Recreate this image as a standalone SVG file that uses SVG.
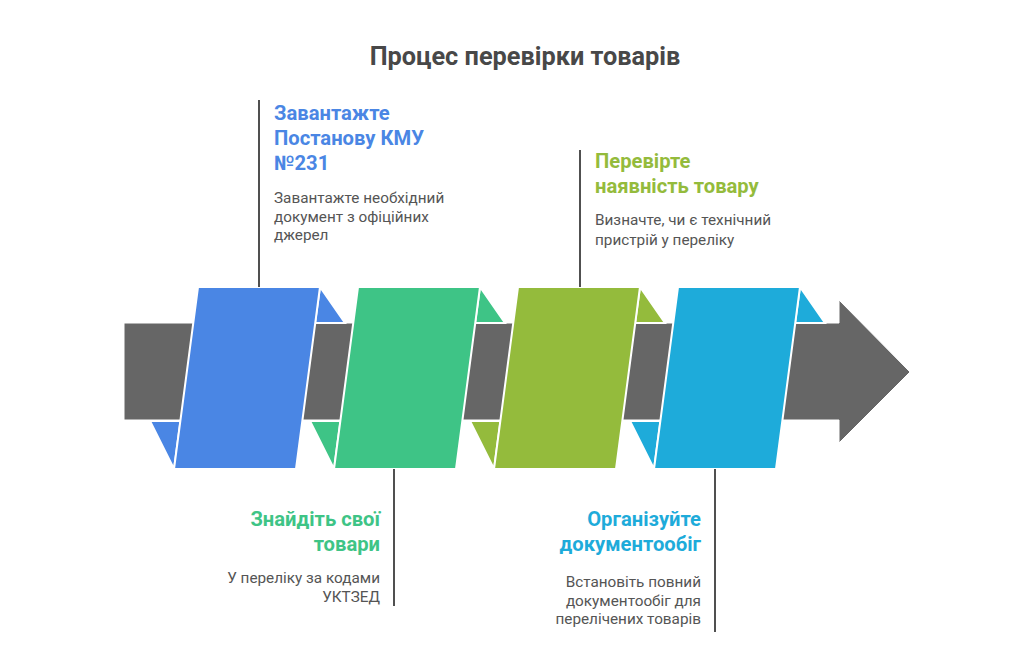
<svg xmlns="http://www.w3.org/2000/svg" width="1015" height="654" viewBox="0 0 1015 654">
<style>
.title{font-family:Roboto,"Liberation Sans",sans-serif;font-weight:bold;font-size:25.3px;fill:#484848}
.h{font-family:Roboto,"Liberation Sans",sans-serif;font-weight:bold;font-size:20.2px}
.d{font-family:Roboto,"Liberation Sans",sans-serif;font-size:15.3px;fill:#555555}
.r{text-anchor:end}
.sh{stroke:#ffffff;stroke-width:2;stroke-linejoin:miter}
.ln{stroke:#505050;stroke-width:2;fill:none}
.blue{fill:#4A86E4}
.green{fill:#3EC486}
.olive{fill:#94BB3C}
.cyan{fill:#1EABDA}
</style>
<rect width="1015" height="654" fill="#ffffff"/>
<text class="title" x="525" y="65" text-anchor="middle">Процес перевірки товарів</text>
<g id="band">
<polygon points="124,323 839,323 839,300 910,372 839,443 839,420 124,420" fill="#666666" stroke="#ffffff" stroke-width="1"/>
</g>
<g id="step1">
<polygon class="blue sh" points="320,287 345,323 315,323"/>
<polygon class="blue sh" points="150,421 180.5,421 174,469"/>
<polygon class="blue sh" points="198,287 320,287 296,469 174,469"/>
</g>
<g id="step2">
<polygon class="green sh" points="480,287 505,323 475,323"/>
<polygon class="green sh" points="310,421 340.5,421 334,469"/>
<polygon class="green sh" points="358,287 480,287 456,469 334,469"/>
</g>
<g id="step3">
<polygon class="olive sh" points="640,287 665,323 635,323"/>
<polygon class="olive sh" points="470,421 500.5,421 494,469"/>
<polygon class="olive sh" points="518,287 640,287 616,469 494,469"/>
</g>
<g id="step4">
<polygon class="cyan sh" points="800,287 825,323 795,323"/>
<polygon class="cyan sh" points="630,421 660.5,421 654,469"/>
<polygon class="cyan sh" points="678,287 800,287 776,469 654,469"/>
</g>
<g id="connectors">
<line class="ln" x1="259" y1="100" x2="259" y2="287"/>
<line class="ln" x1="580" y1="150" x2="580" y2="287"/>
<line class="ln" x1="394" y1="469" x2="394" y2="606"/>
<line class="ln" x1="715" y1="469" x2="715" y2="632"/>
</g>
<g id="label1">
<text class="h" fill="#4A86E4" x="274" y="120">Завантажте</text>
<text class="h" fill="#4A86E4" x="274" y="145">Постанову КМУ</text>
<text class="h" fill="#4A86E4" x="274" y="170">№231</text>
<text class="d" x="274" y="203">Завантажте необхідний</text>
<text class="d" x="274" y="221.5">документ з офіційних</text>
<text class="d" x="274" y="240">джерел</text>
</g>
<g id="label2">
<text class="h r" fill="#3EC486" x="380" y="526">Знайдіть свої</text>
<text class="h r" fill="#3EC486" x="380" y="551">товари</text>
<text class="d r" x="380" y="583">У переліку за кодами</text>
<text class="d r" x="380" y="602">УКТЗЕД</text>
</g>
<g id="label3">
<text class="h" fill="#94BB3C" x="595" y="168">Перевірте</text>
<text class="h" fill="#94BB3C" x="595" y="193">наявність товару</text>
<text class="d" x="595" y="225">Визначте, чи є технічний</text>
<text class="d" x="595" y="245">пристрій у переліку</text>
</g>
<g id="label4">
<text class="h r" fill="#1EABDA" x="701" y="526">Організуйте</text>
<text class="h r" fill="#1EABDA" x="701" y="551">документообіг</text>
<text class="d r" x="701" y="587">Встановіть повний</text>
<text class="d r" x="701" y="605.5">документообіг для</text>
<text class="d r" x="701" y="624">перелічених товарів</text>
</g>
</svg>
